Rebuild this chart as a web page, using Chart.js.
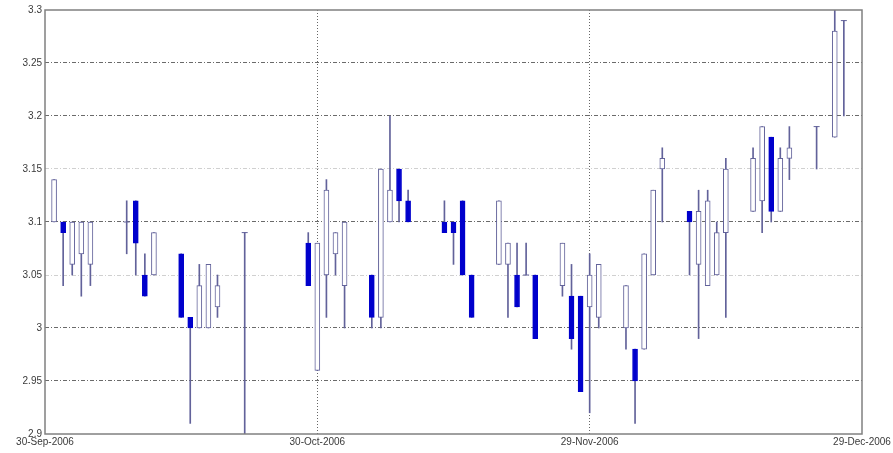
<!DOCTYPE html>
<html>
<head>
<meta charset="utf-8">
<script src="https://cdn.jsdelivr.net/npm/chart.js@4.4.1/dist/chart.umd.min.js"></script>
<style>
  html, body { margin: 0; padding: 0; background: #ffffff; }
  #wrap { width: 893px; height: 453px; position: relative; }
</style>
</head>
<body>
<div id="wrap"><canvas id="c"></canvas></div>
<script>
// Daily prices, 30-Sep-2006 .. 29-Dec-2006
const tradeDates = [
  '2006-10-01','2006-10-02','2006-10-03','2006-10-04','2006-10-05',
  '2006-10-09','2006-10-10','2006-10-11','2006-10-12',
  '2006-10-15','2006-10-16','2006-10-17','2006-10-18','2006-10-19',
  '2006-10-22',
  '2006-10-29','2006-10-30','2006-10-31','2006-11-01','2006-11-02',
  '2006-11-05','2006-11-06','2006-11-07','2006-11-08','2006-11-09',
  '2006-11-13','2006-11-14','2006-11-15','2006-11-16',
  '2006-11-19','2006-11-20','2006-11-21','2006-11-22','2006-11-23',
  '2006-11-26','2006-11-27','2006-11-28','2006-11-29','2006-11-30',
  '2006-12-03','2006-12-04','2006-12-05','2006-12-06','2006-12-07',
  '2006-12-10','2006-12-11','2006-12-12','2006-12-13','2006-12-14',
  '2006-12-17','2006-12-18','2006-12-19','2006-12-20','2006-12-21',
  '2006-12-24','2006-12-26','2006-12-27'
];
const openPrices = [
  3.10, 3.10, 3.06, 3.07, 3.06,
  3.10, 3.12, 3.05, 3.05,
  3.07, 3.01, 3.00, 3.00, 3.02,
  3.09,
  3.08, 2.96, 3.05, 3.07, 3.04,
  3.05, 3.01, 3.10, 3.15, 3.12,
  3.10, 3.10, 3.12, 3.05,
  3.06, 3.06, 3.05, 3.05, 3.05,
  3.04, 3.03, 3.03, 3.02, 3.01,
  3.00, 2.98, 2.98, 3.05, 3.15,
  3.11, 3.06, 3.04, 3.05, 3.09,
  3.11, 3.12, 3.18, 3.11, 3.16,
  3.19, 3.18, 3.29
];
const highPrices = [
  3.14, 3.10, 3.10, 3.10, 3.10,
  3.12, 3.12, 3.07, 3.09,
  3.07, 3.01, 3.06, 3.06, 3.05,
  3.09,
  3.09, 3.08, 3.14, 3.09, 3.10,
  3.05, 3.15, 3.20, 3.15, 3.13,
  3.12, 3.10, 3.12, 3.05,
  3.12, 3.08, 3.08, 3.08, 3.05,
  3.08, 3.06, 3.03, 3.07, 3.06,
  3.04, 2.98, 3.07, 3.13, 3.17,
  3.11, 3.13, 3.13, 3.10, 3.16,
  3.17, 3.19, 3.18, 3.17, 3.19,
  3.19, 3.30, 3.29
];
const lowPrices = [
  3.10, 3.04, 3.05, 3.03, 3.04,
  3.07, 3.05, 3.03, 3.05,
  3.01, 2.91, 3.00, 3.00, 3.01,
  2.90,
  3.04, 2.96, 3.01, 3.05, 3.00,
  3.00, 3.00, 3.10, 3.10, 3.10,
  3.09, 3.06, 3.05, 3.01,
  3.06, 3.01, 3.02, 3.05, 2.99,
  3.03, 2.98, 2.94, 2.92, 3.00,
  2.98, 2.91, 2.98, 3.05, 3.10,
  3.05, 2.99, 3.04, 3.05, 3.01,
  3.11, 3.09, 3.10, 3.11, 3.14,
  3.15, 3.18, 3.20
];
const closePrices = [
  3.14, 3.09, 3.10, 3.10, 3.10,
  3.10, 3.08, 3.03, 3.09,
  3.01, 3.00, 3.04, 3.06, 3.04,
  3.09,
  3.04, 3.08, 3.13, 3.09, 3.10,
  3.01, 3.15, 3.13, 3.12, 3.10,
  3.09, 3.09, 3.05, 3.01,
  3.12, 3.08, 3.02, 3.05, 2.99,
  3.08, 2.99, 2.94, 3.05, 3.06,
  3.04, 2.95, 3.07, 3.13, 3.16,
  3.10, 3.11, 3.12, 3.09, 3.15,
  3.16, 3.19, 3.11, 3.16, 3.17,
  3.19, 3.28, 3.29
];
const xTickDays = [0, 30, 60, 90];
const xTickLabels = ['30-Sep-2006', '30-Oct-2006', '29-Nov-2006', '29-Dec-2006'];
const yTickValues = [2.9, 2.95, 3.0, 3.05, 3.1, 3.15, 3.2, 3.25, 3.3];
const yTickLabels = ['2.9', '2.95', '3', '3.05', '3.1', '3.15', '3.2', '3.25', '3.3'];

// x position = days elapsed since 30-Sep-2006
const BASE = Date.UTC(2006, 8, 30);
function dayOf(s) {
  const [y, m, d] = s.split('-').map(Number);
  return Math.round((Date.UTC(y, m - 1, d) - BASE) / 86400000);
}
const xs = tradeDates.map(dayOf);

const EDGE = '#62629a';
const FILL_DOWN = '#0000cc';
const isUp = i => closePrices[i] >= openPrices[i];
const near = (a, b) => Math.abs(a - b) < 1e-6;

const bodies = xs.map((x, i) => ({ x, y: [openPrices[i], closePrices[i]] }));
const ranges = xs.map((x, i) => ({ x, y: [lowPrices[i], highPrices[i]] }));
const flats = xs.map((x, i) => near(openPrices[i], closePrices[i]) ? { x, y: openPrices[i] } : null)
                .filter(Boolean);

// outline of the plot box
const frame = {
  id: 'frame',
  afterDatasetsDraw(chart) {
    const { ctx, chartArea: a } = chart;
    ctx.save();
    ctx.strokeStyle = '#808080';
    ctx.lineWidth = 1.5;
    ctx.strokeRect(a.left, a.top, a.right - a.left, a.bottom - a.top);
    ctx.restore();
  }
};

new Chart(document.getElementById('c'), {
  type: 'bar',
  data: {
    datasets: [
      {
        type: 'line',
        data: flats,
        showLine: false,
        pointStyle: 'line',
        pointRadius: 3,
        pointBorderColor: EDGE,
        pointBorderWidth: 1,
        borderColor: EDGE,
        order: 0
      },
      {
        data: bodies,
        barThickness: 5,
        grouped: false,
        borderSkipped: false,
        borderWidth: 1,
        backgroundColor: c => isUp(c.dataIndex) ? '#ffffff' : FILL_DOWN,
        borderColor: c => isUp(c.dataIndex) ? EDGE : FILL_DOWN,
        order: 1
      },
      {
        data: ranges,
        barThickness: 1,
        grouped: false,
        borderWidth: 0,
        backgroundColor: EDGE,
        order: 2
      }
    ]
  },
  options: {
    responsive: true,
    maintainAspectRatio: false,
    animation: false,
    events: [],
    layout: { padding: { top: 10, right: 31, bottom: 0, left: 0 } },
    plugins: { legend: { display: false }, tooltip: { enabled: false } },
    scales: {
      x: {
        type: 'linear',
        min: 0,
        max: 90,
        offset: false,
        afterBuildTicks: s => { s.ticks = xTickDays.map(v => ({ value: v })); },
        afterFit: s => { s.height = 19; s.paddingLeft = 0; s.paddingRight = 0; },
        ticks: {
          autoSkip: false,
          maxRotation: 0,
          padding: 2,
          color: '#3a3a3a',
          font: { family: 'Liberation Sans, Arial, sans-serif', size: 10 },
          callback: v => xTickLabels[xTickDays.indexOf(v)]
        },
        grid: {
          offset: false,
          drawTicks: false,
          lineWidth: 1,
          color: c => (c.tick && (c.tick.value === 30 || c.tick.value === 60)) ? '#666666' : 'rgba(0,0,0,0)'
        },
        border: { display: false, dash: [1, 2] }
      },
      y: {
        type: 'linear',
        min: 2.9,
        max: 3.3,
        afterBuildTicks: s => { s.ticks = yTickValues.map(v => ({ value: v })); },
        afterFit: s => { s.width = 45; s.paddingTop = 0; s.paddingBottom = 0; },
        ticks: {
          padding: 3,
          color: '#3a3a3a',
          font: { family: 'Liberation Sans, Arial, sans-serif', size: 10 },
          callback: v => yTickLabels[yTickValues.findIndex(t => near(t, v))]
        },
        grid: {
          drawTicks: false,
          lineWidth: 1,
          color: c => {
            const v = c.tick ? c.tick.value : 0;
            if (near(v, 2.9) || near(v, 3.3)) return 'rgba(0,0,0,0)';
            if (near(v, 3.05) || near(v, 3.15)) return '#d0d0d0';
            return '#6a6a6a';
          }
        },
        border: { display: false, dash: [4, 2, 1, 2] }
      }
    }
  },
  plugins: [frame]
});
</script>
</body>
</html>
